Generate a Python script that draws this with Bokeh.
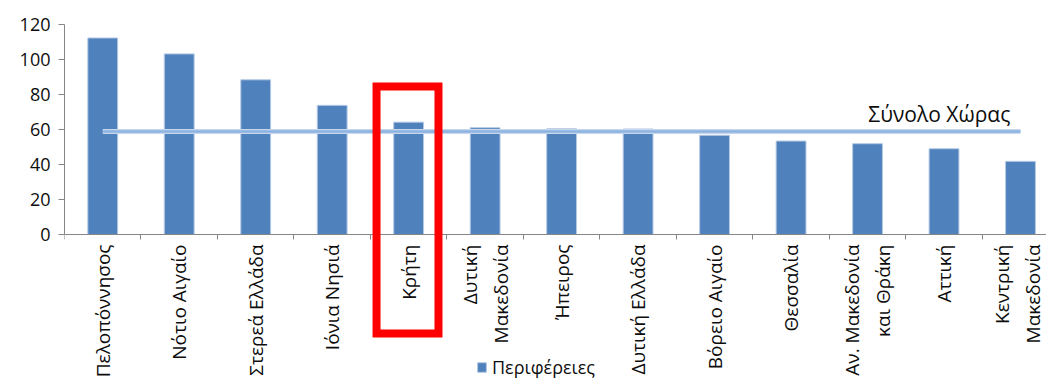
import math
from bokeh.plotting import figure
from bokeh.models import (Range1d, FixedTicker, ColumnDataSource, BoxAnnotation,
                          Legend, LegendItem, Label, LinearAxis)
from bokeh.embed import file_html
from bokeh.resources import INLINE

# Regions (Περιφέρειες) and their values
regions = [
    "Πελοπόννησος", "Νότιο Αιγαίο", "Στερεά Ελλάδα", "Ιόνια Νησιά", "Κρήτη",
    "Δυτική\nΜακεδονία", "Ήπειρος", "Δυτική Ελλάδα", "Βόρειο Αιγαίο",
    "Θεσσαλία", "Αν. Μακεδονία\nκαι Θράκη", "Αττική", "Κεντρική\nΜακεδονία",
]
values = [112.3, 103.2, 88.4, 73.8, 64.2, 61.0, 60.4, 60.3, 56.7, 53.4, 51.9, 49.0, 41.8]
national_total = 58.8          # Σύνολο Χώρας
highlighted = "Κρήτη"

y_ticks = [0, 20, 40, 60, 80, 100, 120]

FONT = "Open Sans"
BAR_COLOR = "#4F81BD"
LINE_COLOR = "#8DB3E2"
TEXT_COLOR = "#0d0d0d"

n = len(regions)
centers = [i + 0.5 for i in range(n)]

# The frame runs down to the bottom edge; the category axis sits at y = 0
p = figure(width=1046, height=380, output_backend="svg", toolbar_location=None,
           x_range=Range1d(0, 12.84), y_range=Range1d(-83.43, 120),
           x_axis_location=None,
           min_border_left=64, min_border_right=0, min_border_top=24,
           min_border_bottom=0)
p.outline_line_color = None
p.grid.grid_line_color = None
p.background_fill_color = "white"
p.border_fill_color = "white"

src = ColumnDataSource(dict(x=centers, top=values, name=regions))
bars = p.vbar(x="x", top="top", width=0.39, bottom=0, source=src,
              fill_color=BAR_COLOR, line_color="#B4C9E4", line_width=1)

# National total as a horizontal reference line over the regions
p.line(x=[centers[0], centers[-1]], y=[national_total, national_total],
       line_color="#C6D7EC", line_width=5)
p.line(x=[centers[0], centers[-1]], y=[national_total, national_total],
       line_color=LINE_COLOR, line_width=2.5)
p.add_layout(Label(x=10.51, y=national_total + 9.8, text="Σύνολο Χώρας",
                   text_font=FONT, text_font_size="21px", text_color=TEXT_COLOR,
                   text_baseline="alphabetic", text_align="left"))

# category axis: labels at category centres, tick marks at category boundaries
xa = LinearAxis(fixed_location=0)
xa.ticker = FixedTicker(ticks=centers, minor_ticks=list(range(n + 1)))
xa.major_label_overrides = {c: r for c, r in zip(centers, regions)}
xa.major_label_orientation = math.pi / 2
xa.major_label_text_font = FONT
xa.major_label_text_font_size = "19px"
xa.major_label_text_align = "center"
xa.major_label_text_color = TEXT_COLOR
xa.major_label_standoff = 5
xa.major_tick_out = 0
xa.major_tick_in = 0
xa.minor_tick_out = 5
xa.minor_tick_in = 0
xa.minor_tick_line_color = "#868686"
xa.axis_line_color = "#868686"
p.add_layout(xa, "below")

ya = p.yaxis[0]
ya.ticker = FixedTicker(ticks=y_ticks)
ya.bounds = (0, 120)
ya.minor_tick_line_color = None
ya.major_tick_out = 6
ya.major_tick_in = 0
ya.major_tick_line_color = "#868686"
ya.axis_line_color = "#868686"
ya.major_label_text_font = FONT
ya.major_label_text_font_size = "18px"
ya.major_label_text_color = TEXT_COLOR
ya.major_label_standoff = 8

# Highlight frame around Κρήτη
k = regions.index(highlighted)
p.add_layout(BoxAnnotation(left=k + 0.08, right=k + 0.89, top=84.6, bottom=-56.6,
                           fill_alpha=0, line_color="#FF0000", line_alpha=1.0,
                           line_width=8, line_join="miter"))

legend = Legend(items=[LegendItem(label="Περιφέρειες", renderers=[bars])],
                location=(412, 1), orientation="horizontal",
                label_text_font=FONT, label_text_font_size="18px",
                label_text_color=TEXT_COLOR, glyph_width=11, glyph_height=12,
                border_line_color=None, background_fill_alpha=0,
                padding=0, margin=0, label_standoff=5)
p.add_layout(legend, "center")

open("out.html", "w").write(file_html(p, INLINE))
